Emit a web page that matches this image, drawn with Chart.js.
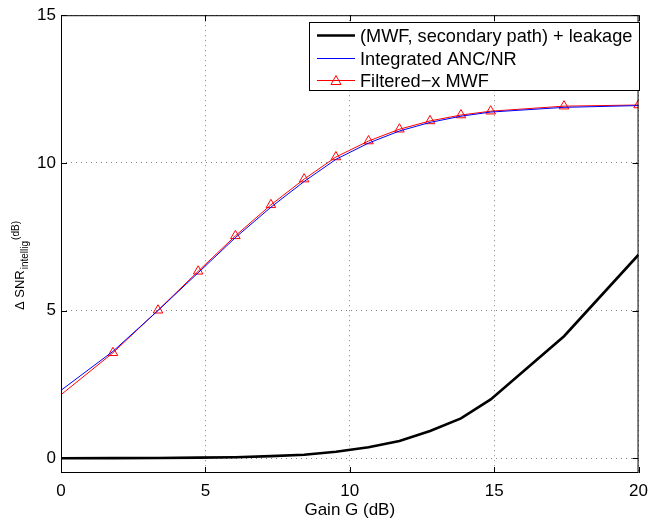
<!DOCTYPE html>
<html lang="en">
<head>
  <meta charset="UTF-8" />
  <title>Delta SNR vs gain</title>
  <style>
    body { margin: 0; background: #fff; }
    #wrap { width: 656px; height: 522px; position: relative; }
  </style>
  <script src="https://cdn.jsdelivr.net/npm/chart.js"></script>
</head>
<body>
  <div id="wrap"><canvas id="snrChart" width="656" height="522"></canvas></div>
  <script>
    // Gain values (dB) where each curve was evaluated
    const gainDb = [0, 1.8, 3.36, 4.75, 6.04, 7.27, 8.42, 9.52, 10.65, 11.72, 12.78, 13.85, 14.88, 17.42, 20];
    // (MWF, secondary path) + leakage
    const mwfLeak = [0, 0.005, 0.01, 0.02, 0.035, 0.07, 0.12, 0.22, 0.37, 0.58, 0.92, 1.35, 1.99, 4.13, 6.89];
    // Integrated ANC/NR
    const ancNr = [2.30, 3.62, 5.0, 6.28, 7.47, 8.5, 9.37, 10.12, 10.67, 11.08, 11.37, 11.58, 11.72, 11.88, 11.94];
    // Filtered-x MWF
    const fxMwf = [2.15, 3.57, 5.01, 6.33, 7.53, 8.58, 9.45, 10.2, 10.74, 11.14, 11.42, 11.62, 11.75, 11.92, 11.96];
    const xTicks = [0, 5, 10, 15, 20];
    const yTicks = [0, 5, 10, 15];
    const seriesNames = ["(MWF, secondary path) + leakage", "Integrated ANC/NR", "Filtered\u2212x MWF"];

    const FONT = "'Liberation Sans', Arial, sans-serif";

    function pts(ys) {
      return gainDb.map((x, i) => ({ x: x, y: ys[i] }));
    }

    // box, inward ticks, legend and axis titles, matlab style
    const matlabLook = {
      id: 'matlabLook',
      afterDraw(chart) {
        const ctx = chart.ctx;
        const a = chart.chartArea;
        const xs = chart.scales.x, ys = chart.scales.y;
        ctx.save();
        ctx.strokeStyle = '#000';
        ctx.lineWidth = 1;
        ctx.strokeRect(a.left + 0.5, a.top + 0.5, a.right - a.left - 1, a.bottom - a.top - 1);
        ctx.beginPath();
        xTicks.forEach(v => {
          const px = Math.round(xs.getPixelForValue(v)) + 0.5;
          ctx.moveTo(px, a.bottom); ctx.lineTo(px, a.bottom - 6);
          ctx.moveTo(px, a.top); ctx.lineTo(px, a.top + 6);
        });
        yTicks.forEach(v => {
          const py = Math.round(ys.getPixelForValue(v)) + 0.5;
          ctx.moveTo(a.left, py); ctx.lineTo(a.left + 6, py);
          ctx.moveTo(a.right, py); ctx.lineTo(a.right - 6, py);
        });
        ctx.stroke();

        // legend
        const lx = 309, ly = 22, lw = 330, lh = 68;
        ctx.fillStyle = '#fff';
        ctx.fillRect(lx, ly, lw, lh);
        ctx.strokeRect(lx + 0.5, ly + 0.5, lw, lh);
        ctx.font = '18.2px ' + FONT;
        ctx.textBaseline = 'middle';
        chart.data.datasets.forEach((ds, i) => {
          const ry = Math.round(ly + 13 + i * 22.5) + 0.5;
          ctx.strokeStyle = ds.borderColor;
          ctx.lineWidth = ds.borderWidth;
          ctx.beginPath();
          ctx.moveTo(lx + 8, ry); ctx.lineTo(lx + 46, ry);
          ctx.stroke();
          if (i === 2) {
            ctx.lineWidth = 1;
            ctx.beginPath();
            ctx.moveTo(lx + 27, ry - 5); ctx.lineTo(lx + 32, ry + 4); ctx.lineTo(lx + 22, ry + 4);
            ctx.closePath();
            ctx.stroke();
          }
          ctx.fillStyle = '#000';
          ctx.fillText(ds.label, lx + 51, ry + 1);
        });

        // x title
        ctx.fillStyle = '#000';
        ctx.font = '17px ' + FONT;
        ctx.textAlign = 'center';
        ctx.textBaseline = 'alphabetic';
        ctx.fillText('Gain G (dB)', (a.left + a.right) / 2, 515);

        // y title, rotated, with sub/superscript
        ctx.translate(24, 310);
        ctx.rotate(-Math.PI / 2);
        ctx.textAlign = 'left';
        ctx.font = '13px ' + FONT;
        let t = '\u0394 SNR';
        ctx.fillText(t, 0, 0);
        let w = ctx.measureText(t).width;
        ctx.font = '10px ' + FONT;
        ctx.fillText('intellig', w + 1, 4);
        const w2 = ctx.measureText('intellig').width;
        ctx.fillText('(dB)', w + w2 + 2, -5);
        ctx.restore();
      }
    };

    const gridStyle = {
      color: '#808080',
      lineWidth: 1,
      drawTicks: false
    };

    new Chart(document.getElementById('snrChart'), {
      type: 'line',
      data: {
        datasets: [
          {
            label: seriesNames[0],
            data: pts(mwfLeak),
            borderColor: '#000',
            borderWidth: 2.6,
            pointRadius: 0,
            fill: false
          },
          {
            label: seriesNames[1],
            data: pts(ancNr),
            borderColor: '#0000ff',
            borderWidth: 1,
            pointRadius: 0,
            fill: false
          },
          {
            label: seriesNames[2],
            data: pts(fxMwf),
            borderColor: '#ff0000',
            borderWidth: 1,
            pointStyle: 'triangle',
            pointRadius: gainDb.map((x, i) => i === 0 ? 0 : 5.5),
            pointBorderColor: '#ff0000',
            pointBackgroundColor: 'rgba(0,0,0,0)',
            pointBorderWidth: 1,
            fill: false
          }
        ]
      },
      options: {
        responsive: false,
        animation: false,
        events: [],
        layout: { padding: { top: 15, right: 13, left: 0, bottom: 0 } },
        plugins: { legend: { display: false }, tooltip: { enabled: false } },
        scales: {
          x: {
            type: 'linear',
            min: 0, max: 20,
            afterBuildTicks(s) { s.ticks = xTicks.map(v => ({ value: v })); },
            afterFit(s) { s.height = 49; },
            grid: gridStyle,
            border: { display: false, dash: [1, 4] },
            ticks: { color: '#000', font: { family: FONT, size: 17 }, padding: 8, maxRotation: 0 }
          },
          y: {
            type: 'linear',
            min: -0.5, max: 15,
            afterBuildTicks(s) { s.ticks = yTicks.map(v => ({ value: v })); },
            afterFit(s) { s.width = 61; },
            grid: gridStyle,
            border: { display: false, dash: [1, 4] },
            ticks: { color: '#000', font: { family: FONT, size: 17 }, padding: 5 }
          }
        }
      },
      plugins: [matlabLook]
    });
  </script>
</body>
</html>
